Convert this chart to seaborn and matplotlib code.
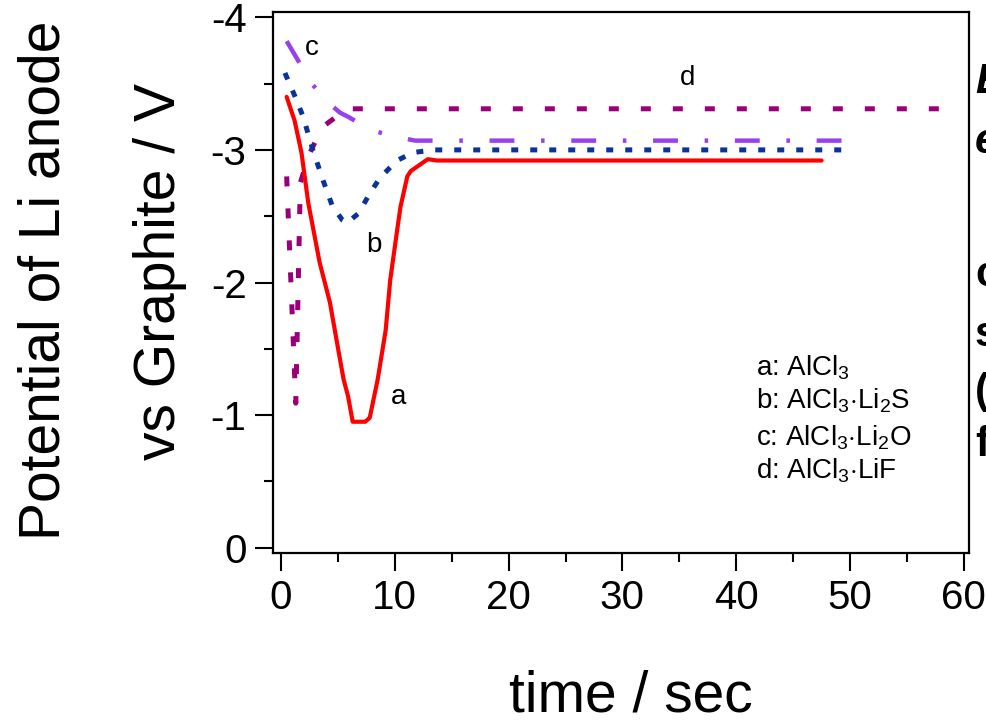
import matplotlib
matplotlib.use("Agg")
import matplotlib.pyplot as plt
import numpy as np
import pandas as pd
import seaborn as sns

# ---- data ----
a_t = [0.5, 1.2, 1.8, 2.4, 3.4, 4.3, 5.0, 5.5, 5.9, 6.3, 7.4, 7.8, 8.5, 9.2, 9.6, 10.2, 10.5, 11.1, 11.4, 12.9, 13.7, 47.5]
a_v = [-3.40, -3.22, -2.98, -2.60, -2.15, -1.85, -1.51, -1.27, -1.14, -0.95, -0.95, -0.98, -1.27, -1.64, -2.02, -2.39, -2.57, -2.80, -2.84, -2.93, -2.92, -2.92]

b_t = [0.35, 1.2, 1.95, 2.8, 3.7, 4.5, 5.4, 5.8, 6.8, 7.8, 8.7, 10.2, 11.6, 13.4, 49.3]
b_v = [-3.58, -3.41, -3.25, -3.00, -2.77, -2.58, -2.47, -2.45, -2.52, -2.67, -2.79, -2.92, -2.98, -3.00, -3.00]

c_t = [0.5, 1.4, 2.6, 4.1, 5.2, 5.9, 7.9, 10.0, 11.8, 51.5]
c_v = [-3.82, -3.69, -3.51, -3.36, -3.28, -3.25, -3.15, -3.10, -3.07, -3.07]

d_t = [0.5, 1.3, 1.7, 2.4, 3.6, 5.8, 58.3]
d_v = [-2.80, -1.09, -2.75, -2.95, -3.17, -3.31, -3.31]

curve_letters = ["a", "b", "c", "d"]
legend_lines = [r"a: AlCl$_3$", r"b: AlCl$_3$$\cdot$Li$_2$S",
                r"c: AlCl$_3$$\cdot$Li$_2$O", r"d: AlCl$_3$$\cdot$LiF"]
x_ticks = [0, 10, 20, 30, 40, 50, 60]
y_ticks = [-4, -3, -2, -1, 0]
x_label = "time / sec"
y_label1 = "Potential of Li anode"
y_label2 = "vs Graphite / V"

# ---- style ----
sns.set_style("ticks")
plt.rcParams["font.family"] = ["Liberation Sans", "DejaVu Sans"]
plt.rcParams["mathtext.fontset"] = "custom"
plt.rcParams["mathtext.rm"] = "Liberation Sans"
plt.rcParams["mathtext.it"] = "Liberation Sans:italic"
plt.rcParams["mathtext.bf"] = "Liberation Sans:bold"
plt.rcParams["text.color"] = "black"
plt.rcParams["axes.labelcolor"] = "black"
plt.rcParams["xtick.color"] = "black"
plt.rcParams["ytick.color"] = "black"
plt.rcParams["xtick.labelcolor"] = "black"
plt.rcParams["ytick.labelcolor"] = "black"

fig = plt.figure(figsize=(9.87, 7.24), dpi=100)
ax = fig.add_axes([273 / 987, 1 - 553 / 724, 696 / 987, 541 / 724])

def df(t, v):
    return pd.DataFrame({"t": t, "v": v})

sns.lineplot(data=df(d_t, d_v), x="t", y="v", ax=ax, sort=False, estimator=None,
             color="#990077", lw=3.6, linestyle=(0, (2.0, 4.4)), dash_capstyle="butt")
sns.lineplot(data=df(c_t, c_v), x="t", y="v", ax=ax, sort=False, estimator=None,
             color="#9940ee", lw=3.2, linestyle=(0, (5.6, 6.0, 0.8, 6.0)), dash_capstyle="butt")
sns.lineplot(data=df(b_t, b_v), x="t", y="v", ax=ax, sort=False, estimator=None,
             color="#0a3399", lw=3.6, linestyle=(0, (1.4, 2.4)), dash_capstyle="butt")
sns.lineplot(data=df(a_t, a_v), x="t", y="v", ax=ax, sort=False, estimator=None,
             color="#ff0000", lw=3.0)

ax.set_xlim(-0.7, 60.45)
ax.set_ylim(0.04, -4.04)
ax.set_xticks(x_ticks)
ax.set_yticks(y_ticks)
ax.set_xticks(np.arange(5, 60, 10), minor=True)
ax.set_yticks(np.arange(-3.5, 0, 1.0), minor=True)
ax.set_xticklabels([str(v) for v in x_ticks])
ax.set_yticklabels([str(v) for v in y_ticks])
ax.tick_params(which="major", direction="out", length=13, width=1.5, labelsize=29, pad=6,
               color="black", labelcolor="black")
ax.tick_params(which="minor", direction="out", length=6.5, width=1.5, color="black")
for s in ax.spines.values():
    s.set_linewidth(1.6)
    s.set_color("black")
ax.set_xlabel("")
ax.set_ylabel("")

# curve letter annotations
letter_pos = [(10.3, -1.14), (8.2, -2.28), (2.7, -3.77), (35.7, -3.54)]
for lab, (x, y) in zip(curve_letters, letter_pos):
    ax.text(x, y, lab, fontsize=20, ha="center", va="center", color="black")

# in-plot legend text
leg_y = [0.342, 0.281, 0.213, 0.152]
for txt, yy in zip(legend_lines, leg_y):
    ax.text(0.694, yy, txt, transform=ax.transAxes, fontsize=20, ha="left", va="center", color="black")

# axis labels
fig.text(631 / 987, 1 - 697 / 724, x_label, fontsize=41, ha="center", va="center")
fig.text(45 / 987, 1 - 280 / 724, y_label1, fontsize=41, ha="center", va="center", rotation=90)
fig.text(160 / 987, 1 - 272 / 724, y_label2, fontsize=41, ha="center", va="center", rotation=90)

# fragments of neighbouring text cut at the right edge (as in the reference crop)
frag = [("E", 82, True), ("e", 142, True), ("c", 275, False), ("s", 335, False), ("(", 392, False), ("f", 445, False)]
for ch, yy, it in frag:
    fig.text(975 / 987, 1 - yy / 724, ch, fontsize=30, fontweight="bold",
             style="italic" if it else "normal", ha="left", va="center")

fig.savefig("out.png", dpi=100)
